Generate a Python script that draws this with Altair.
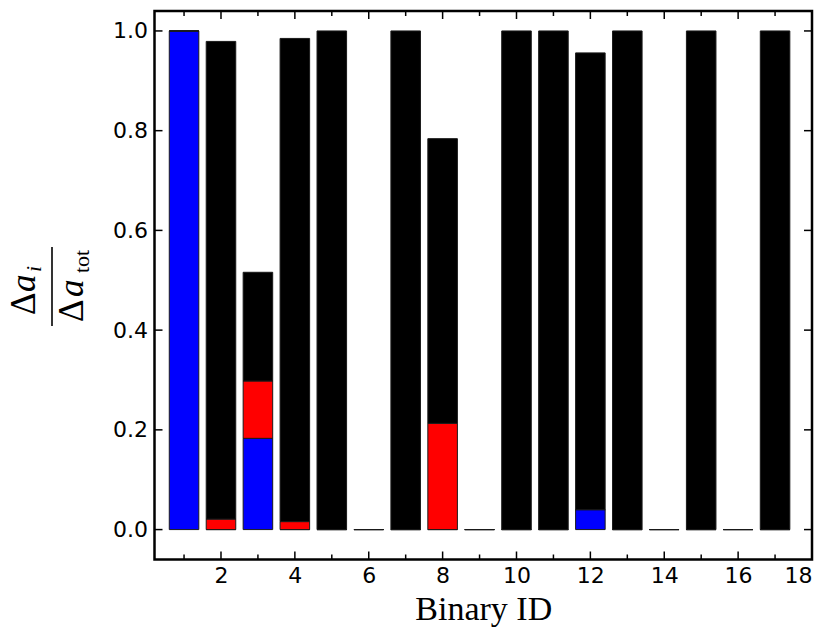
import altair as alt
import pandas as pd

# ---- data ----
binary_id = list(range(1, 18))
blue = [1.0, 0.0, 0.183, 0.0, 0.0, 0.0, 0.0, 0.0, 0.0, 0.0, 0.0, 0.040, 0.0, 0.0, 0.0, 0.0, 0.0]
red = [0.0, 0.021, 0.115, 0.016, 0.0, 0.0, 0.0, 0.213, 0.0, 0.0, 0.0, 0.0, 0.0, 0.0, 0.0, 0.0, 0.0]
black = [0.0, 0.958, 0.218, 0.969, 1.0, 0.0, 1.0, 0.571, 0.0, 1.0, 1.0, 0.916, 1.0, 0.0, 1.0, 0.0, 1.0]

x_major = [2, 4, 6, 8, 10, 12, 14, 16, 18]
x_minor = [1, 3, 5, 7, 9, 11, 13, 15, 17]
y_major = [0.0, 0.2, 0.4, 0.6, 0.8, 1.0]

components = ["blue", "red", "black"]
colors = ["#0000ff", "#ff0000", "#000000"]

rows = []
for i, b in enumerate(binary_id):
    base = 0.0
    for k, (name, arr) in enumerate(zip(components, [blue, red, black])):
        v = arr[i]
        rows.append({"id": b, "component": name, "rank": k,
                     "x0": b - 0.4, "x1": b + 0.4, "y0": base, "y1": base + v})
        base += v
df = pd.DataFrame(rows)

W, H = 657.5, 548.5
xscale = alt.Scale(domain=[0.2, 18], nice=False, zero=False)
yscale = alt.Scale(domain=[-0.06, 1.04], nice=False, zero=False)

xaxis = alt.Axis(values=x_major, format="d", labelPadding=6,
                 title="Binary ID", titleFont="Liberation Serif",
                 titleFontSize=34, titleFontWeight="normal",
                 titleColor="black", titlePadding=6)
yaxis = alt.Axis(values=y_major, format=".1f", labelPadding=7, title="")

bars = alt.Chart(df).mark_bar(stroke="#1a1a1a", strokeWidth=1).encode(
    x=alt.X("x0:Q", scale=xscale, axis=xaxis),
    x2="x1:Q",
    y=alt.Y("y0:Q", scale=yscale, axis=yaxis),
    y2="y1:Q",
    color=alt.Color("component:N",
                    scale=alt.Scale(domain=components, range=colors), legend=None),
)


def xticks(vals, length, top):
    y0 = 0 if top else H
    y1 = length if top else H - length
    return alt.Chart(pd.DataFrame({"t": vals})).mark_rule(
        color="black", strokeWidth=1.5).encode(
        x=alt.X("t:Q", scale=xscale, axis=xaxis),
        y=alt.value(y0), y2=alt.value(y1))


def yticks(vals, length, right):
    x0 = W if right else 0
    x1 = W - length if right else length
    return alt.Chart(pd.DataFrame({"t": vals})).mark_rule(
        color="black", strokeWidth=1.5).encode(
        y=alt.Y("t:Q", scale=yscale, axis=yaxis),
        x=alt.value(x0), x2=alt.value(x1))


def piece(s, x, y, size, style="normal"):
    return alt.Chart(pd.DataFrame({"s": [s]})).mark_text(
        angle=270, align="left", baseline="alphabetic",
        font="Liberation Serif", fontSize=size, fontStyle=style,
        color="black").encode(x=alt.value(x), y=alt.value(y), text="s:N")


frac_line = alt.Chart(pd.DataFrame({"s": [0]})).mark_rule(
    color="black", strokeWidth=1.6).encode(
    x=alt.value(-102.5), y=alt.value(236), y2=alt.value(315))

title_parts = [
    piece("Δ", -120, 304, 35),
    piece("a", -120, 281, 35, "italic"),
    piece("i", -114, 261, 22, "italic"),
    frac_line,
    piece("Δ", -71.5, 311, 35),
    piece("a", -71.5, 286, 35, "italic"),
    piece("tot", -66, 262, 22),
]

chart = alt.layer(
    bars,
    xticks(x_major, 8, False), xticks(x_minor, 5, False),
    xticks(x_major, 8, True), xticks(x_minor, 5, True),
    yticks(y_major, 8, False), yticks(y_major, 8, True),
    *title_parts,
).properties(
    width=W, height=H,
    autosize=alt.AutoSizeParams(type="none"),
    padding={"left": 146.5, "top": 3, "right": 10, "bottom": 70},
).configure_view(
    stroke="black", strokeWidth=2.5
).configure_axis(
    domain=False, ticks=False, tickSize=0, grid=False,
    labelFont="DejaVu Sans", labelFontSize=22, labelColor="black"
)

chart.save("out.html", embed_options={"renderer": "svg", "actions": False})
